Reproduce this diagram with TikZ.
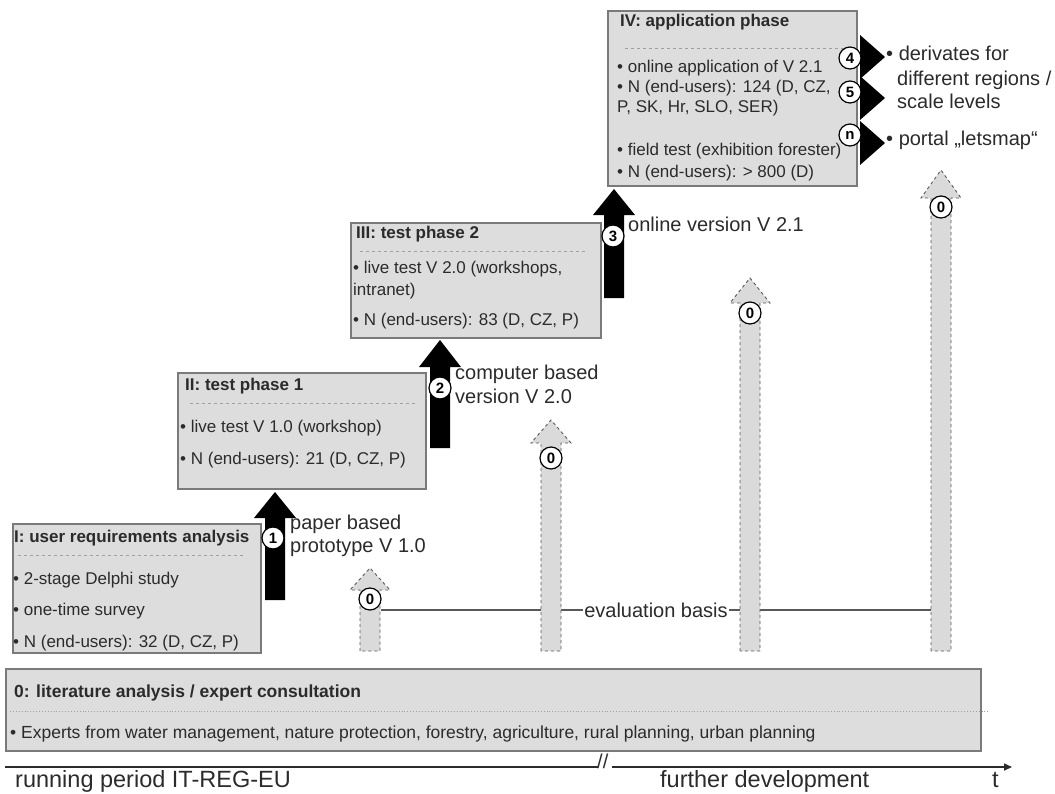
\documentclass[tikz,border=0pt]{standalone}
\usepackage{fontspec}
\setmainfont{Liberation Sans}
\usetikzlibrary{arrows.meta}
\newcommand{\fsz}[1]{\fontsize{#1}{#1}\selectfont}
\definecolor{boxfill}{HTML}{DDDDDD}
\definecolor{boxline}{HTML}{7A7A7A}
\definecolor{txt}{HTML}{2B2B2B}
\definecolor{evalfill}{HTML}{DADADA}

\begin{document}
\begin{tikzpicture}[
    x=1pt, y=-1pt,
    >=Latex,
    phasebox/.style={draw=boxline, fill=boxfill, line width=1.5pt, inner sep=0, anchor=north west},
    ptitle/.style={font=\bfseries\fsz{17}, text=txt, anchor=mid west, inner sep=0},
    item/.style={font=\fsz{17}, text=txt, anchor=mid west, inner sep=0},
    dashsep/.style={gray!75, dashed, line width=0.8pt},
    num/.style={circle, draw, fill=white, line width=1.2pt, inner sep=0,
        minimum size=22pt, font=\bfseries\fsz{15}},
    evalarrow/.style={fill=evalfill, draw=gray!70!black, dashed, line width=0.9pt},
    note/.style={font=\fsz{20}, text=txt, anchor=mid west, inner sep=0},
    timeline/.style={draw=txt, line width=1.6pt}
]
\useasboundingbox (0,0) rectangle (1055,793);

% =====================================================
% EVALUATION BASIS
% =====================================================

\coordinate (evs) at (381,610);
\coordinate (eve) at (931,610);
\draw[gray!70!black, line width=1.2pt] (evs) -- node[fill=white, inner sep=1pt, font=\fsz{20}, text=txt] (evtext) {evaluation basis} (eve);

\foreach \cx/\tip/\hb in {370/568/590, 551/420/443, 750/278/303, 941/170/198}
    \draw[evalarrow] ({\cx-10},651) -- ({\cx-10},\hb) -- ({\cx-20},\hb) -- (\cx,\tip)
        -- ({\cx+20},\hb) -- ({\cx+10},\hb) -- ({\cx+10},651) -- cycle;

\node[num] (e1) at (370,599) {0};
\node[num] (e2) at (551,458) {0};
\node[num] (e3) at (750,313) {0};
\node[num] (e4) at (941,207) {0};

% =====================================================
% PHASES
% =====================================================

% Phase I
\node[phasebox, minimum width=248, minimum height=129] (ph1) at (12,523) {};
\node[ptitle] (ph1t) at (14,540) {I: user requirements analysis};
\draw[dashsep] (18,555) -- (243,555);
\node[item] (ph1a) at (13,582) {• 2-stage Delphi study};
\node[item] (ph1b) at (13,613) {• one-time survey};
\node[item] (ph1c) at (13,645) {• N (end-users): 32 (D, CZ, P)};

% Phase II
\node[phasebox, minimum width=248, minimum height=116] (ph2) at (177,372) {};
\node[ptitle] (ph2t) at (185,388) {II: test phase 1};
\draw[dashsep] (190,403) -- (415,403);
\node[item] (ph2a) at (180,430) {• live test V 1.0 (workshop)};
\node[item] (ph2b) at (180,462) {• N (end-users): 21 (D, CZ, P)};

% Phase III
\node[phasebox, minimum width=250, minimum height=115] (ph3) at (350,222) {};
\node[ptitle] (ph3t) at (356,236) {III: test phase 2};
\draw[dashsep] (360,251) -- (588,251);
\node[item] (ph3a) at (353,271) {• live test V 2.0 (workshops,};
\node[item] (ph3b) at (353,293) {intranet)};
\node[item] (ph3c) at (353,323) {• N (end-users): 83 (D, CZ, P)};

% Phase IV
\node[phasebox, minimum width=249, minimum height=175] (ph4) at (607,10) {};
\node[ptitle] (ph4t) at (620,24) {IV: application phase};
\draw[dashsep] (625,48) -- (845,48);
\node[item] (ph4a) at (617,70) {• online application of V 2.1};
\node[item] (ph4b) at (617,90) {• N (end-users): 124 (D, CZ,};
\node[item] (ph4c) at (617,110) {P, SK, Hr, SLO, SER)};
\node[item] (ph4d) at (617,153) {• field test (exhibition forester)};
\node[item] (ph4e) at (617,175) {• N (end-users): > 800 (D)};

% Phase 0
\node[phasebox, minimum width=975, minimum height=82] (ph0) at (5,668) {};
\node[ptitle, font=\bfseries\fsz{17.5}] (ph0t) at (14,695) {0: literature analysis / expert consultation};
\draw[gray!75, dotted, line width=0.9pt] (10,711) -- (988,711);
\node[item, font=\fsz{17.5}] (ph0a) at (10,736) {• Experts from water management, nature protection, forestry, agriculture, rural planning, urban planning};

% =====================================================
% VERSIONS
% =====================================================

\foreach \cx/\tip/\hb/\bot in {275/492/518/600, 440/340/367/448, 614/189/215/298}
    \fill[black] ({\cx-10},\bot) -- ({\cx-10},\hb) -- ({\cx-21},\hb) -- (\cx,\tip)
        -- ({\cx+21},\hb) -- ({\cx+10},\hb) -- ({\cx+10},\bot) -- cycle;

\node[num] (v1) at (273,538) {1};
\node[num] (v2) at (440,388) {2};
\node[num] (v3) at (613,236) {3};

\node[note] (v1a) at (290,527) {paper based};
\node[note] (v1b) at (290,550) {prototype V 1.0};
\node[note] (v2a) at (455,377) {computer based};
\node[note] (v2b) at (455,401) {version V 2.0};
\node[note] (v3a) at (628,229) {online version V 2.1};

% outputs of phase IV
\foreach \ty in {57,98,143}
    \fill[black] (860,{\ty-22}) -- (885,\ty) -- (860,{\ty+22}) -- cycle;

\node[num] (o4) at (850,58) {4};
\node[num] (o5) at (850,92) {5};
\node[num] (on) at (850,135) {n};

\node[note] (d1) at (886,58) {• derivates for};
\node[note] (d2) at (897,83) {different regions /};
\node[note] (d3) at (897,106) {scale levels};
\node[note] (d4) at (886,143) {• portal „letsmap“};

% =====================================================
% TIME AXIS
% =====================================================

\coordinate (t0) at (5,767);
\coordinate (tb1) at (598,767);
\coordinate (tb2) at (612,767);
\coordinate (t1) at (1012,767);
\draw[timeline] (t0) -- (tb1);
\draw[timeline, -{Triangle[length=8pt,width=7pt]}] (tb2) -- (t1);
\node[note] (brk) at (597,766) {//};
\node[note, anchor=base west, font=\fsz{23.5}] (run) at (15,787) {running period IT-REG-EU};
\node[note, anchor=base west, font=\fsz{23.5}] (fur) at (660,787) {further development};
\node[note, anchor=base west, font=\fsz{23.5}] (tt) at (992,787) {t};

\end{tikzpicture}
\end{document}
